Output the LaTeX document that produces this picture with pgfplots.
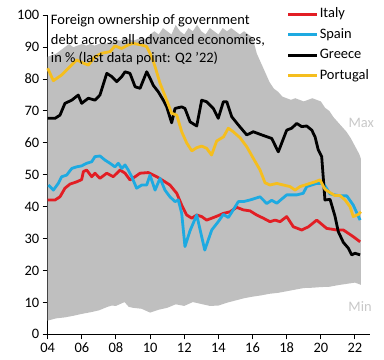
\documentclass[border=0pt]{standalone}
\usepackage{pgfplots}
\pgfplotsset{compat=1.18}
\usepgfplotslibrary{fillbetween}
\usepackage{fontspec}
\setmainfont{Carlito}
\definecolor{itred}{RGB}{226,30,36}
\definecolor{esblue}{RGB}{30,170,225}
\definecolor{ptyellow}{RGB}{245,190,30}
\definecolor{envgray}{RGB}{191,191,191}
\definecolor{lblgray}{RGB}{200,200,200}
\begin{document}
\begin{tikzpicture}
\begin{axis}[
  at={(47.7bp,25.7bp)}, anchor=south west,
  scale only axis, width=322.3bp, height=319bp,
  xmin=2004, xmax=2022.88, ymin=0, ymax=100,
  axis x line=bottom, axis y line=left,
  axis line style={-, line width=1bp, black},
  tick align=outside, major tick length=5bp,
  tick style={black, line width=1bp},
  xtick={2004,2006,...,2022},
  xticklabels={04,06,08,10,12,14,16,18,20,22},
  ytick={0,10,...,100},
  tick label style={font=\fontsize{14.5}{16}\selectfont},
  /pgf/number format/assume math mode=true,
  clip=false,
  legend cell align=left,
  legend style={at={(axis description cs:1,1)}, anchor=north east, yshift=9.5bp,
    draw=none, fill=white, inner sep=0pt, row sep=4bp,
    font=\fontsize{14.5}{16}\selectfont,
    nodes={inner sep=1bp, text height=11bp, text depth=3.5bp}},
  legend image code/.code={\draw[#1] (0bp,0bp) -- (29bp,0bp);},
]
\addplot[name path=upper, draw=none, forget plot] coordinates {
(2004.0,87) (2004.25,87.5) (2004.5,88) (2004.75,89) (2005.0,90) (2005.25,91) (2005.5,90)
(2005.75,90.5) (2006.0,91) (2006.25,90.5) (2006.5,91) (2006.75,90.5) (2007.0,91)
(2007.25,91.5) (2007.5,91) (2007.75,92) (2008.0,92.5) (2008.25,92) (2008.5,93)
(2008.75,92.5) (2009.0,92) (2009.25,92.5) (2009.5,93) (2009.75,92.5) (2010.0,94)
(2010.25,95) (2010.5,94) (2010.75,96) (2011.0,95) (2011.25,94) (2011.5,97)
(2011.75,95) (2012.0,94) (2012.25,96) (2012.5,95) (2012.75,97) (2013.0,95)
(2013.25,94) (2013.5,96) (2013.75,95) (2014.0,94) (2014.25,96) (2014.5,95)
(2014.75,96) (2015.0,95) (2015.25,94) (2015.5,95) (2015.75,94) (2016.0,93)
(2016.25,88) (2016.5,85) (2016.75,82) (2017.0,79) (2017.25,77) (2017.5,76)
(2017.75,74.5) (2018.0,74) (2018.25,73.5) (2018.5,74) (2018.75,73.5) (2019.0,73)
(2019.25,73.5) (2019.5,74) (2019.75,73.5) (2020.0,73) (2020.25,71) (2020.5,70)
(2020.75,68) (2021.0,66.5) (2021.25,65) (2021.5,63.5) (2021.75,61.5) (2022.0,59)
(2022.25,56.5) (2022.35,55)
};
\addplot[name path=lower, draw=none, forget plot] coordinates {
(2004.0,4.3) (2004.5,5.0) (2005.0,5.3) (2005.5,5.8) (2006.0,6.4) (2006.5,6.9)
(2007.0,7.5) (2007.5,8.6) (2007.75,9.0) (2008.0,8.9) (2008.5,10.1) (2008.75,8.6)
(2009.0,8.3) (2009.5,8.0) (2010.0,6.8) (2010.5,7.7) (2011.0,8.3) (2011.5,9.4)
(2012.0,8.9) (2012.5,10.1) (2013.0,9.5) (2013.5,8.9) (2014.0,9.0) (2014.5,9.9)
(2015.0,10.6) (2015.5,11.3) (2016.0,11.8) (2016.5,12.2) (2017.0,12.7) (2017.5,13.0)
(2018.0,13.5) (2018.5,14.0) (2019.0,14.5) (2019.5,14.6) (2020.0,14.8) (2020.5,14.9)
(2021.0,15.4) (2021.5,15.8) (2022.0,16.2) (2022.35,15.5)
};
\addplot[envgray, forget plot] fill between[of=upper and lower];

\addplot[itred, line width=2.8bp, line join=round] coordinates {
(2004.0,42.1) (2004.43,42.1) (2004.72,43.1) (2005.01,45.8) (2005.31,47.1) (2005.7,47.8)
(2005.99,48.5) (2006.09,51.0) (2006.28,51.5) (2006.58,49.4) (2006.77,50.5) (2007.06,48.9)
(2007.46,50.5) (2007.84,49.4) (2008.24,51.5) (2008.53,50.5) (2008.82,48.4) (2009.12,49.4)
(2009.41,50.5) (2009.89,50.7) (2010.39,49.4) (2010.87,47.8) (2011.16,46.8) (2011.56,44.2)
(2011.85,40.5) (2012.14,37.4) (2012.44,36.4) (2012.73,37.4) (2013.02,36.9) (2013.31,35.8)
(2013.61,36.4) (2013.9,37.0) (2014.29,37.9) (2014.68,38.4) (2015.07,39.8) (2015.46,39.0)
(2015.85,38.7) (2016.24,37.4) (2016.63,36.4) (2017.02,35.3) (2017.32,35.8) (2017.61,35.3)
(2018.0,36.9) (2018.39,33.7) (2018.88,32.7) (2019.27,33.7) (2019.76,35.8) (2020.34,33.2)
(2020.93,32.7) (2021.32,32.7) (2021.9,30.6) (2022.3,29.0)
};
\addlegendentry{Italy}
\addplot[esblue, line width=2.8bp, line join=round] coordinates {
(2004.04,46.8) (2004.33,45.2) (2004.62,47.3) (2004.82,49.4) (2005.11,49.9) (2005.41,52.0)
(2005.7,52.5) (2005.99,52.8) (2006.28,53.6) (2006.58,54.1) (2006.77,55.7) (2007.06,55.9)
(2007.36,54.6) (2007.65,53.6) (2007.94,52.5) (2008.14,53.6) (2008.34,52.0) (2008.53,53.1)
(2008.72,51.5) (2008.92,49.4) (2009.21,45.8) (2009.51,46.8) (2009.8,46.8) (2009.99,49.9)
(2010.29,45.2) (2010.58,48.9) (2010.87,45.2) (2011.16,43.1) (2011.46,41.6) (2011.65,42.1)
(2011.85,37.9) (2012.04,27.5) (2012.34,32.5) (2012.73,37.4) (2013.2,26.4) (2013.61,32.7)
(2013.99,35.3) (2014.29,37.6) (2014.58,36.6) (2014.87,39.0) (2015.17,41.6) (2015.46,41.6)
(2015.85,42.1) (2016.44,43.1) (2016.83,41.0) (2017.12,42.0) (2017.42,41.1) (2018.0,43.7)
(2018.59,43.7) (2018.97,44.2) (2019.17,46.3) (2019.76,47.3) (2020.15,47.3) (2020.54,44.0)
(2021.12,43.4) (2021.52,43.4) (2021.9,40.5) (2022.3,35.8)
};
\addlegendentry{Spain}
\addplot[black, line width=2.8bp, line join=round] coordinates {
(2004.0,67.7) (2004.43,67.7) (2004.72,68.7) (2005.01,72.4) (2005.41,73.4) (2005.79,75.0)
(2005.99,72.4) (2006.38,74.0) (2006.77,73.4) (2007.06,75.0) (2007.46,81.8) (2007.75,80.8)
(2008.04,79.2) (2008.34,80.8) (2008.53,82.3) (2008.82,81.8) (2009.12,77.6) (2009.41,77.1)
(2009.8,82.3) (2009.99,80.3) (2010.19,78.0) (2010.48,76.0) (2010.77,73.4) (2010.97,71.3)
(2011.26,66.3) (2011.46,70.8) (2011.85,71.3) (2012.04,70.8) (2012.34,66.6) (2012.73,65.3)
(2013.02,73.4) (2013.31,72.9) (2013.7,70.8) (2013.99,67.7) (2014.29,72.9) (2014.49,72.9)
(2014.78,68.2) (2015.17,65.6) (2015.66,62.5) (2016.04,63.5) (2016.54,62.5) (2017.12,61.4)
(2017.51,57.2) (2018.0,64.0) (2018.29,64.6) (2018.59,66.1) (2018.88,65.1) (2019.17,65.3)
(2019.47,64.0) (2019.66,61.9) (2019.85,57.8) (2020.05,55.7) (2020.24,42.1) (2020.54,42.3)
(2020.83,37.0) (2021.02,32.2) (2021.32,28.8) (2021.61,27.0) (2021.81,24.9) (2022.0,25.4)
(2022.3,24.9)
};
\addlegendentry{Greece}
\addplot[ptyellow, line width=2.8bp, line join=round] coordinates {
(2004.0,83.4) (2004.33,79.5) (2004.82,81.3) (2005.3,83.9) (2005.7,86.0) (2006.09,85.0)
(2006.38,84.4) (2006.77,87.0) (2007.16,88.1) (2007.65,88.6) (2007.94,90.4) (2008.33,89.6)
(2008.72,90.7) (2009.0,91.2) (2009.5,90.7) (2009.8,90.2) (2010.09,87.0) (2010.29,83.9)
(2010.58,78.7) (2010.97,73.4) (2011.26,69.3) (2011.56,68.7) (2011.85,63.5) (2012.14,60.0)
(2012.44,57.5) (2012.73,58.5) (2013.02,59.0) (2013.31,58.3) (2013.6,56.2) (2013.9,60.6)
(2014.3,61.9) (2014.58,64.6) (2014.87,63.5) (2015.27,61.6) (2015.66,58.8) (2016.04,55.2)
(2016.44,51.5) (2016.73,47.5) (2017.02,46.8) (2017.42,47.3) (2017.8,46.8) (2018.2,46.3)
(2018.49,45.2) (2018.78,46.3) (2019.07,46.8) (2019.36,47.3) (2019.66,47.8) (2019.95,48.4)
(2020.24,45.5) (2020.54,44.4) (2020.83,43.5) (2021.12,43.5) (2021.42,42.1) (2021.71,40.0)
(2021.9,36.9) (2022.2,37.6) (2022.35,38.4)
};
\addlegendentry{Portugal}

\node[anchor=base west, inner sep=0pt, font=\fontsize{14.5}{16}\selectfont] at (axis cs:2004.18,96.96) {Foreign ownership of government};
\node[anchor=base west, inner sep=0pt, font=\fontsize{14.5}{16}\selectfont] at (axis cs:2004.18,91.0) {debt across all advanced economies,};
\node[anchor=base west, inner sep=0pt, font=\fontsize{14.5}{16}\selectfont] at (axis cs:2004.18,85.05) {in \% (last data point: Q2 '22)};
\node[inner sep=0pt, text=lblgray, font=\fontsize{14.5}{16}\selectfont] at (axis cs:2022.37,66.2) {Max};
\node[inner sep=0pt, text=lblgray, font=\fontsize{14.5}{16}\selectfont] at (axis cs:2022.3,8.56) {Min};
\end{axis}
\path (0,0) rectangle (384bp,360bp);
\end{tikzpicture}
\end{document}
